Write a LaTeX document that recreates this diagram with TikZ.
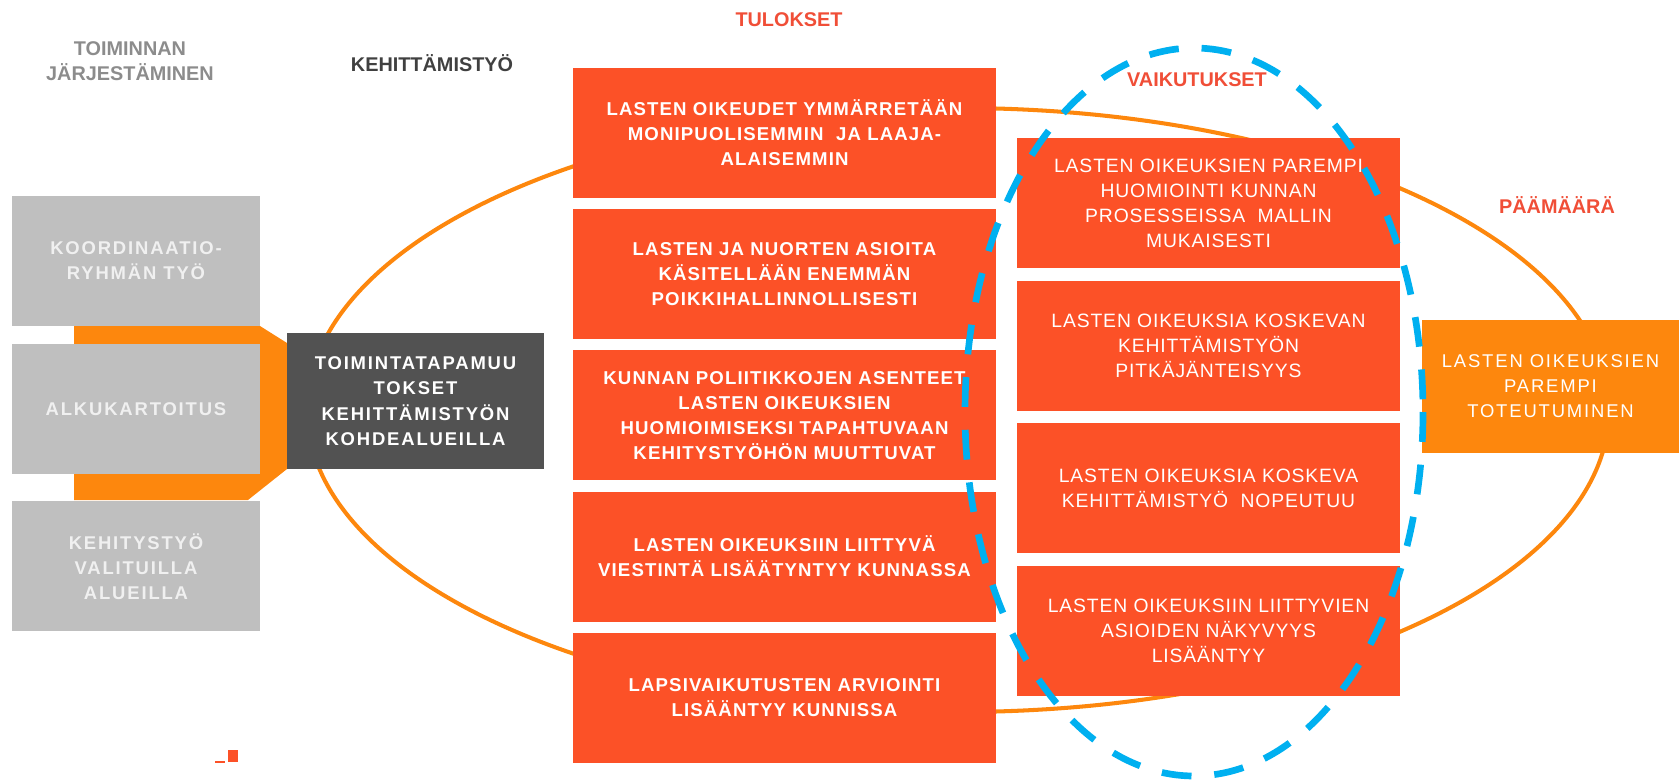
\documentclass[tikz,border=0pt]{standalone}
\usepackage{fontspec}
\setmainfont{Liberation Sans}
\newfontfamily\boxfont{Liberation Sans}[LetterSpace=6]
\newfontfamily\wideboxfont{Liberation Sans}[LetterSpace=10]
\newfontfamily\vaikfont{Liberation Sans}[LetterSpace=4.5]
\usetikzlibrary{positioning}
\definecolor{boxred}{RGB}{252,81,39}
\definecolor{boxorange}{RGB}{253,135,13}
\definecolor{boxgray}{RGB}{191,191,191}
\definecolor{boxdark}{RGB}{82,82,82}
\definecolor{ringblue}{RGB}{0,176,240}
\definecolor{headred}{RGB}{240,78,55}
\definecolor{headgray}{RGB}{140,140,140}
\definecolor{headdark}{RGB}{64,64,64}
\tikzset{
	graybox/.style = {rectangle, fill=boxgray, minimum width=4.96cm, minimum height=2.6cm, inner sep=0pt, align=center, text=white!94!black, font=\wideboxfont\bfseries\fontsize{10.5}{14.2}\selectfont},
	darkbox/.style = {rectangle, fill=boxdark, minimum width=5.14cm, minimum height=2.72cm, inner sep=0pt, align=center, text=white, font=\wideboxfont\bfseries\fontsize{10.5}{14.4}\selectfont},
	tulosbox/.style = {rectangle, fill=boxred, minimum width=8.46cm, minimum height=2.6cm, inner sep=0pt, align=center, text=white, font=\boxfont\bfseries\fontsize{10.6}{14.2}\selectfont},
	vaikbox/.style = {rectangle, fill=boxred, minimum width=7.66cm, minimum height=2.6cm, inner sep=0pt, align=center, text=white, font=\vaikfont\fontsize{11}{14.2}\selectfont},
	goalbox/.style = {rectangle, fill=boxorange, minimum width=5.14cm, minimum height=2.66cm, inner sep=0pt, align=center, text=white, font=\wideboxfont\fontsize{10.5}{14.2}\selectfont},
	header/.style = {inner sep=0pt, align=center, font=\bfseries\fontsize{11.3}{14.2}\selectfont},
	ring/.style = {draw=boxorange, line width=2.3pt},
	dashring/.style = {draw=ringblue, line width=3.8pt, dash pattern=on 17pt off 13pt}
}
\begin{document}
\begin{tikzpicture}[x=0.02cm, y=-0.02cm]
	\useasboundingbox (0,0) rectangle (1679,781);
	
	% Orange ring behind everything
	\draw [ring] (958,410) ellipse [x radius=651, y radius=302];
	
	% Orange bracket behind the left column
	\fill [boxorange] (74,326) -- (260,326) -- (287,343) -- (287,469) -- (248,500) -- (74,500) -- cycle;
	
	% Toiminnan jarjestaminen
	\node (koord) [graybox] at (136,261) {KOORDINAATIO-\\RYHMÄN TYÖ};
	\node (alku) [graybox, below=0.34cm of koord] {ALKUKARTOITUS};
	\node (kehitys) [graybox, below=0.54cm of alku] {KEHITYSTYÖ\\VALITUILLA\\ALUEILLA};
	
	% Kehittamistyo
	\node (toim) [darkbox] at (415.5,401) {TOIMINTATAPAMUU\\TOKSET\\KEHITTÄMISTYÖN\\KOHDEALUEILLA};
	
	% Tulokset
	\node (tulos1) [tulosbox] at (784.5,133) {LASTEN OIKEUDET YMMÄRRETÄÄN\\MONIPUOLISEMMIN \ JA LAAJA-\\ALAISEMMIN};
	\node (tulos2) [tulosbox, below=0.21cm of tulos1] {LASTEN JA NUORTEN ASIOITA\\KÄSITELLÄÄN ENEMMÄN\\POIKKIHALLINNOLLISESTI};
	\node (tulos3) [tulosbox, below=0.21cm of tulos2] {KUNNAN POLIITIKKOJEN ASENTEET\\LASTEN OIKEUKSIEN\\HUOMIOIMISEKSI TAPAHTUVAAN\\KEHITYSTYÖHÖN MUUTTUVAT};
	\node (tulos4) [tulosbox, below=0.21cm of tulos3] {LASTEN OIKEUKSIIN LIITTYVÄ\\VIESTINTÄ LISÄÄTYNTYY KUNNASSA};
	\node (tulos5) [tulosbox, below=0.21cm of tulos4] {LAPSIVAIKUTUSTEN ARVIOINTI\\LISÄÄNTYY KUNNISSA};
	
	% Vaikutukset
	\node (vaik1) [vaikbox] at (1208.5,203) {LASTEN OIKEUKSIEN PAREMPI\\HUOMIOINTI KUNNAN\\PROSESSEISSA \ MALLIN\\MUKAISESTI};
	\node (vaik2) [vaikbox, below=0.24cm of vaik1] {LASTEN OIKEUKSIA KOSKEVAN\\KEHITTÄMISTYÖN\\PITKÄJÄNTEISYYS};
	\node (vaik3) [vaikbox, below=0.24cm of vaik2] {LASTEN OIKEUKSIA KOSKEVA\\KEHITTÄMISTYÖ \ NOPEUTUU};
	\node (vaik4) [vaikbox, below=0.24cm of vaik3] {LASTEN OIKEUKSIIN LIITTYVIEN\\ASIOIDEN NÄKYVYYS\\LISÄÄNTYY};
	
	% Paamaara
	\node (tavoite) [goalbox] at (1550.5,386.5) {LASTEN OIKEUKSIEN\\PAREMPI\\TOTEUTUMINEN};
	
	% Blue dashed ring on top
	\draw [dashring] (1194,412) ellipse [x radius=229, y radius=364];
	
	% Headers
	\node (otsikko_toim) [header, text=headgray] at (130,61.5) {TOIMINNAN\\JÄRJESTÄMINEN};
	\node (otsikko_kehit) [header, text=headdark] at (432,63) {KEHITTÄMISTYÖ};
	\node (otsikko_tulos) [header, text=headred] at (789,20) {TULOKSET};
	\node (otsikko_vaik) [header, text=headred] at (1197,80) {VAIKUTUKSET};
	\node (otsikko_paam) [header, text=headred] at (1557,205) {PÄÄMÄÄRÄ};
	
	% small mark
	\fill [boxred] (215,761) rectangle (225,763);
	\fill [boxred] (228,750) rectangle (238,762);
	
\end{tikzpicture}
\end{document}
